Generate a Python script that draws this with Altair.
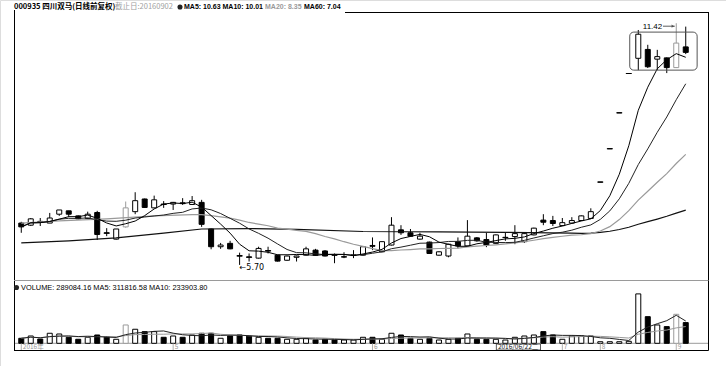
import altair as alt
import pandas as pd

# ------------------------------------------------------------------ data
idx = list(range(1, 72))
opens = [6.69, 6.64, 6.73, 6.69, 6.90, 6.98, 6.86, 6.80, 6.94, 6.46,
         6.31, 6.60, 6.96, 7.26, 7.05, 7.14, 7.14, 7.17, 7.13, 7.18,
         6.55, 6.13, 6.21, 5.92, 5.89, 5.86, 6.04, 5.93, 5.81, 5.88,
         5.93, 6.05, 6.03, 5.94, 5.89, 5.93, 5.93, 6.16, 6.01, 6.17,
         6.53, 6.46, 6.31, 6.24, 5.93, 5.91, 6.25, 6.15, 6.34, 6.30,
         6.21, 6.35, 6.37, 6.25, 6.41, 6.76, 6.75, 6.63, 6.69, 6.75,
         6.80, 7.66, 8.45, 9.30, 10.23, 10.59, 10.80, 10.57, 10.60, 10.37,
         10.86]
highs = [6.72, 6.81, 6.81, 6.93, 7.00, 6.98, 6.87, 6.96, 6.98, 6.57,
         6.55, 7.20, 7.42, 7.27, 7.34, 7.21, 7.19, 7.28, 7.33, 7.24,
         6.56, 6.22, 6.27, 5.99, 5.97, 6.13, 6.13, 5.94, 5.92, 5.92,
         6.13, 6.08, 6.05, 5.97, 6.00, 6.05, 6.14, 6.35, 6.26, 6.83,
         6.64, 6.55, 6.46, 6.25, 6.02, 6.20, 6.35, 6.76, 6.36, 6.46,
         6.42, 6.46, 6.64, 6.45, 6.58, 6.90, 6.86, 6.81, 6.83, 6.87,
         7.04, 7.66, 8.45, 9.30, 10.23, 11.26, 10.91, 10.79, 10.61, 11.42,
         11.34]
lows = [6.46, 6.62, 6.62, 6.69, 6.86, 6.83, 6.78, 6.79, 6.29, 6.38,
        6.30, 6.58, 6.90, 7.05, 7.04, 7.05, 7.00, 7.12, 7.12, 6.60,
        6.07, 6.08, 6.07, 5.70, 5.78, 5.85, 5.97, 5.78, 5.80, 5.78,
        5.92, 5.92, 5.90, 5.74, 5.86, 5.86, 5.92, 6.05, 6.00, 6.16,
        6.41, 6.37, 6.30, 5.96, 5.92, 5.88, 6.09, 6.14, 6.25, 6.12,
        6.20, 6.27, 6.19, 6.22, 6.40, 6.64, 6.62, 6.62, 6.68, 6.74,
        6.79, 7.66, 8.45, 9.30, 10.23, 10.31, 10.36, 10.31, 10.24, 10.36,
        10.69]
closes = [6.60, 6.79, 6.71, 6.81, 7.00, 6.90, 6.79, 6.90, 6.42, 6.45,
          6.55, 7.05, 7.22, 7.06, 7.24, 7.13, 7.18, 7.15, 7.22, 6.66,
          6.13, 6.17, 6.08, 5.91, 5.88, 6.09, 6.03, 5.79, 5.91, 5.91,
          6.08, 5.93, 5.91, 5.93, 5.89, 5.93, 6.13, 6.14, 6.25, 6.64,
          6.46, 6.38, 6.38, 5.97, 6.01, 6.19, 6.15, 6.38, 6.27, 6.17,
          6.41, 6.35, 6.44, 6.44, 6.57, 6.71, 6.68, 6.70, 6.75, 6.86,
          6.96, 7.66, 8.45, 9.30, 10.23, 11.16, 10.39, 10.63, 10.37, 10.95,
          10.73]
volumes = [70000, 102000, 60000, 140000, 130000, 84000, 56000, 84000, 116000, 94000,
           56000, 256000, 196000, 163000, 163000, 84000, 102000, 84000, 116000, 140000,
           140000, 70000, 102000, 116000, 102000, 84000, 70000, 70000, 56000, 56000,
           70000, 46000, 56000, 46000, 46000, 46000, 84000, 84000, 56000, 140000,
           116000, 70000, 56000, 70000, 46000, 56000, 70000, 130000, 56000, 56000,
           56000, 46000, 84000, 102000, 116000, 163000, 116000, 56000, 102000, 102000,
           102000, 22000, 22000, 22000, 28000, 690000, 372000, 256000, 233000, 405000,
           289084.16]
highlight = [12, 70]

ma20_head_idx = [1, 5, 10, 15, 19]
ma20_head_val = [6.69, 6.74, 6.79, 6.86, 6.89]
ma60_head_idx = [1, 6, 11, 16, 20, 25, 30, 37, 45, 52, 59]
ma60_head_val = [6.22, 6.27, 6.34, 6.45, 6.55, 6.56, 6.54, 6.49, 6.48, 6.47, 6.45]

title_code = "000935 四川双马(日线前复权)"
title_date = "截止日:20160902"
title_ma_a = "MA5: 10.63 MA10: 10.01"
title_ma20 = "MA20: 8.35"
title_ma60 = "MA60: 7.04"
vol_title = "VOLUME: 289084.16 MA5: 311816.58 MA10: 233903.80"

date_idx = [1, 17, 38, 58, 62, 70]
date_text = ["2016年", "5", "6", "7", "8", "9"]
cursor_idx = [53]
cursor_text = ["2016/06/22二"]

high_idx, high_val, high_label = [70], [11.42], ["11.42"]
low_idx, low_val, low_label = [24], [5.70], ["←5.70"]
box_i = [65.1, 72.2]
box_p = [10.31, 11.21]

# ------------------------------------------------------------------ frames
df = pd.DataFrame({"i": idx, "o": opens, "h": highs, "l": lows, "c": closes, "v": volumes})
df["fill"] = ["white" if c >= o else "black" for o, c in zip(opens, closes)]
df["edge"] = ["#9a9a9a" if i in highlight else "black" for i in idx]
df["ma5"] = df["c"].rolling(5, min_periods=1).mean()
df["ma10"] = df["c"].rolling(10, min_periods=1).mean()
df["vma5"] = df["v"].rolling(5, min_periods=1).mean()
df["vma10"] = df["v"].rolling(10, min_periods=1).mean()

ma20_df = pd.concat([
    pd.DataFrame({"i": ma20_head_idx, "m": ma20_head_val}),
    pd.DataFrame({"i": df["i"], "m": df["c"].rolling(20).mean()}).dropna(),
], ignore_index=True)
ma60_df = pd.concat([
    pd.DataFrame({"i": ma60_head_idx, "m": ma60_head_val}),
    pd.DataFrame({"i": df["i"], "m": df["c"].rolling(60).mean()}).dropna(),
], ignore_index=True)

X = alt.Scale(domain=[-0.714, 74.714], nice=False, zero=False)
YP = alt.Scale(domain=[3.307, 11.97], nice=False, zero=False)
YV = alt.Scale(domain=[-317000, 4794200], nice=False, zero=False)

xi = alt.X("i:Q", scale=X, axis=None)
base = alt.Chart(df)

# ------------------------------------------------------------------ price panel
wick = base.mark_rule(strokeWidth=1).encode(
    x=xi, y=alt.Y("l:Q", scale=YP, axis=None), y2="h:Q",
    color=alt.Color("edge:N", scale=None))
body = base.mark_bar(size=5, strokeWidth=1).encode(
    x=xi, y=alt.Y("o:Q", scale=YP, axis=None), y2="c:Q",
    fill=alt.Fill("fill:N", scale=None), stroke=alt.Stroke("edge:N", scale=None))
flat = base.transform_filter("abs(datum.o - datum.c) < 0.015").mark_tick(
    orient="horizontal", size=6, thickness=1).encode(
    x=xi, y=alt.Y("c:Q", scale=YP, axis=None), color=alt.Color("edge:N", scale=None))


def ma_line(data, field, color, width=1.0):
    return alt.Chart(data).mark_line(color=color, strokeWidth=width).encode(
        x=xi, y=alt.Y(f"{field}:Q", scale=YP, axis=None))


ma60 = ma_line(ma60_df, "m", "#111", 1.2)
ma20 = ma_line(ma20_df, "m", "#9a9a9a", 1.2)
ma10 = ma_line(df, "ma10", "#222")
ma5 = ma_line(df, "ma5", "#000")

box = alt.Chart(pd.DataFrame({"i1": [box_i[0]], "i2": [box_i[1]],
                              "p1": [box_p[0]], "p2": [box_p[1]]})).mark_rect(
    fillOpacity=0, stroke="#555", strokeWidth=1, cornerRadius=4).encode(
    x=alt.X("i1:Q", scale=X, axis=None), x2="i2:Q",
    y=alt.Y("p1:Q", scale=YP, axis=None), y2="p2:Q")

hi_df = pd.DataFrame({"i": high_idx, "p": high_val, "t": high_label})
hi_text = alt.Chart(hi_df).mark_text(align="right", baseline="middle", dx=-14, dy=3.5,
                                     fontSize=8, font="Liberation Sans").encode(
    x=xi, y=alt.Y("p:Q", scale=YP, axis=None), text="t:N")
hi_line = alt.Chart(hi_df).transform_calculate(i0="datum.i - 1.4", i1="datum.i - 0.15",
                                               pa="datum.p - 0.07").mark_rule(
    color="#333", strokeWidth=0.8).encode(
    x=alt.X("i0:Q", scale=X, axis=None), x2="i1:Q", y=alt.Y("pa:Q", scale=YP, axis=None))
hi_tri = alt.Chart(hi_df).transform_calculate(i1="datum.i - 0.35", pa="datum.p - 0.07").mark_point(
    shape="triangle-right", filled=True, size=10, color="#333").encode(
    x=alt.X("i1:Q", scale=X, axis=None), y=alt.Y("pa:Q", scale=YP, axis=None))

lo_df = pd.DataFrame({"i": low_idx, "p": low_val, "t": low_label})
lo_text = alt.Chart(lo_df).mark_text(align="left", baseline="middle", dx=0, dy=3.5,
                                     fontSize=8, font="DejaVu Sans").encode(
    x=xi, y=alt.Y("p:Q", scale=YP, axis=None), text="t:N")

price = alt.layer(wick, body, flat, ma60, ma20, ma10, ma5, box,
                  hi_line, hi_tri, hi_text, lo_text)

# ------------------------------------------------------------------ volume panel
vbase = alt.Chart(pd.DataFrame({"z": [0]})).mark_rule(color="#9a9a9a", strokeWidth=1).encode(
    y=alt.Y("z:Q", scale=YV, axis=None), x=alt.value(14), x2=alt.value(708))
vbars = base.mark_bar(size=5, strokeWidth=1).encode(
    x=xi, y=alt.Y("v:Q", scale=YV, axis=None), y2=alt.datum(0),
    fill=alt.Fill("fill:N", scale=None), stroke=alt.Stroke("edge:N", scale=None))
vma10 = base.mark_line(color="#9a9a9a", strokeWidth=1).encode(
    x=xi, y=alt.Y("vma10:Q", scale=YV, axis=None))
vma5 = base.mark_line(color="#222", strokeWidth=1).encode(
    x=xi, y=alt.Y("vma5:Q", scale=YV, axis=None))
vol = alt.layer(vbase, vbars, vma10, vma5)

# ------------------------------------------------------------------ decorations
one = pd.DataFrame({"a": [0]})


def hrule(x1, x2, y, color="black"):
    return alt.Chart(one).mark_rule(color=color, strokeWidth=1).encode(
        x=alt.value(x1), x2=alt.value(x2), y=alt.value(y))


def vrule(x, y1, y2, color="black"):
    return alt.Chart(one).mark_rule(color=color, strokeWidth=1).encode(
        x=alt.value(x), y=alt.value(y1), y2=alt.value(y2))


def label(text, x, y, color="black", size=7, weight="bold", font="Liberation Sans"):
    return alt.Chart(pd.DataFrame({"t": [text]})).mark_text(
        align="left", baseline="middle", fontSize=size, fontWeight=weight,
        font=font, color=color).encode(x=alt.value(x), y=alt.value(y), text="t:N")


def dot(x, y):
    return alt.Chart(one).mark_point(shape="circle", filled=True, size=26,
                                     color="#222", opacity=1).encode(
        x=alt.value(x), y=alt.value(y))


frame = [
    vrule(14.5, 10, 350.5),
    vrule(708.5, 12, 350.5),
    hrule(345, 708.5, 12.5),
    hrule(14, 708.5, 350.5),
    hrule(14, 708.5, 280.5, "#9a9a9a"),
]
header = [
    label(title_code, 14, 7, size=7.5, font="Noto Sans CJK SC"),
    label(title_date, 115, 7, color="#a0a0a0", size=7.5, weight="normal", font="Noto Sans CJK SC"),
    dot(180, 7),
    label(title_ma_a, 184, 7),
    label(title_ma20, 265, 7, color="#9a9a9a"),
    label(title_ma60, 304, 7),
    dot(16.5, 287.5),
    label(vol_title, 21, 287.5, weight="normal", size=7.4),
]

dates_df = pd.DataFrame({"i": date_idx, "t": date_text})
date_ticks = alt.Chart(dates_df).mark_rule(color="#b0b0b0", strokeWidth=1).encode(
    x=xi, y=alt.value(343.5), y2=alt.value(350))
date_labels = alt.Chart(dates_df).mark_text(align="left", baseline="middle", dx=1.5,
                                            fontSize=6.5, color="#999",
                                            font="Noto Sans CJK SC").encode(
    x=xi, y=alt.value(347), text="t:N")
cur_df = pd.DataFrame({"i": cursor_idx, "t": cursor_text})
cur_box = alt.Chart(cur_df).transform_calculate(a="datum.i - 1.95", b="datum.i + 2.7").mark_rect(
    fillOpacity=0, stroke="#333", strokeWidth=0.8).encode(
    x=alt.X("a:Q", scale=X, axis=None), x2="b:Q", y=alt.value(344), y2=alt.value(350))
cur_label = alt.Chart(cur_df).mark_text(align="left", baseline="middle", dx=-17,
                                        fontSize=6.5, color="#222",
                                        font="Noto Sans CJK SC").encode(
    x=xi, y=alt.value(347.2), text="t:N")

chart = alt.layer(
    price, vol, date_ticks, date_labels, cur_box, cur_label, *frame, *header
).resolve_scale(y="independent").properties(
    width=726, height=366, padding=0,
    autosize=alt.AutoSizeParams(type="none"),
).configure_view(strokeWidth=0).configure(background="white")

chart.save("out.html", embed_options={"renderer": "svg", "actions": False})
